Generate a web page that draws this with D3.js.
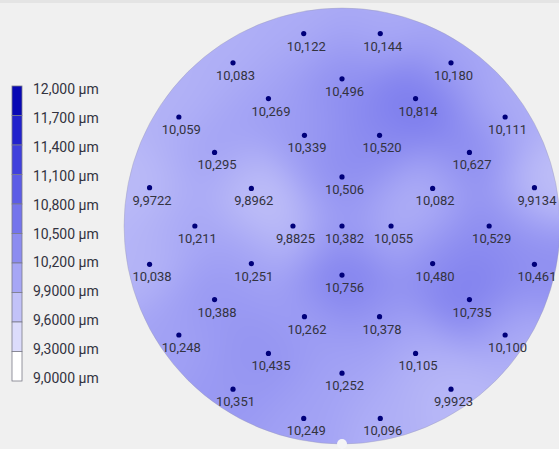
<!DOCTYPE html>
<html>
<head>
<meta charset="utf-8">
<script src="https://cdn.jsdelivr.net/npm/d3@7"></script>
<style>
  html, body { margin: 0; padding: 0; background: #f0f0f0; }
  svg { display: block; font-family: Roboto, "Noto Sans", sans-serif; }
</style>
</head>
<body>
<div id="chart"></div>
<script>
// measurement sites on the wafer (polar, mm / degrees) and thickness in µm
const siteRadius = [
  0,
  33.75, 33.75, 33.75, 33.75,
  67.5, 67.5, 67.5, 67.5, 67.5, 67.5, 67.5, 67.5,
  101.25, 101.25, 101.25, 101.25, 101.25, 101.25, 101.25, 101.25, 101.25, 101.25, 101.25, 101.25,
  135, 135, 135, 135, 135, 135, 135, 135, 135, 135, 135, 135, 135, 135, 135, 135,
];
const siteAngle = [
  0,
  0, 90, 180, 270,
  22.5, 67.5, 112.5, 157.5, 202.5, 247.5, 292.5, 337.5,
  0, 30, 60, 90, 120, 150, 180, 210, 240, 270, 300, 330,
  11.25, 33.75, 56.25, 78.75, 101.25, 123.75, 146.25, 168.75,
  191.25, 213.75, 236.25, 258.75, 281.25, 303.75, 326.25, 348.75,
];
const thickness = [
  10.382,
  10.055, 10.506, 9.8825, 10.756,
  10.082, 10.520, 10.339, 9.8962, 10.251, 10.262, 10.378, 10.480,
  10.529, 10.627, 10.814, 10.496, 10.269, 10.295, 10.211, 10.388, 10.435, 10.252, 10.105, 10.735,
  9.9134, 10.111, 10.180, 10.144, 10.122, 10.083, 10.059, 9.9722,
  10.038, 10.248, 10.351, 10.249, 10.096, 9.9923, 10.100, 10.461,
];
const legendValues = [12.0, 11.7, 11.4, 11.1, 10.8, 10.5, 10.2, 9.9, 9.6, 9.3, 9.0];
const legendColors = [
  "#0808b4", "#2222cc", "#4040dc", "#5c5ce6", "#7474ec", "#8c8cf0",
  "#a6a6f5", "#c2c2f8", "#dcdcfb", "#efeffe", "#ffffff",
];

const width = 559;
const height = 449;
const waferRadius = 150; // mm
const center = { x: 342, y: 226 };
const radiusPx = 218;

const fmt = d3.formatLocale({
  decimal: ",",
  thousands: ".",
  grouping: [3],
  currency: ["", ""],
}).format(".5g");

const x = d3.scaleLinear()
  .domain([-waferRadius, waferRadius])
  .range([center.x - radiusPx, center.x + radiusPx]);
const y = d3.scaleLinear()
  .domain([-waferRadius, waferRadius])
  .range([center.y + radiusPx, center.y - radiusPx]);
const color = d3.scaleLinear()
  .domain(legendValues)
  .range(legendColors)
  .clamp(true);

const sites = thickness.map((v, i) => {
  const a = (siteAngle[i] * Math.PI) / 180;
  return {
    mx: siteRadius[i] * Math.cos(a),
    my: siteRadius[i] * Math.sin(a),
    value: v,
  };
});

const svg = d3.select("#chart")
  .append("svg")
  .attr("width", width)
  .attr("height", height);

svg.append("rect")
  .attr("width", width)
  .attr("height", height)
  .attr("fill", "#f0f0f0");
svg.append("rect")
  .attr("width", width)
  .attr("height", 3)
  .attr("fill", "#e4e4e4");

// interpolated thickness field, gaussian weighted average of the sites
function fieldImage() {
  const size = Math.ceil(radiusPx * 2);
  const canvas = document.createElement("canvas");
  canvas.width = size;
  canvas.height = size;
  const ctx = canvas.getContext("2d");
  const img = ctx.createImageData(size, size);
  const x0 = center.x - radiusPx;
  const y0 = center.y - radiusPx;
  const sigma = 21; // mm
  const s2 = 2 * sigma * sigma;
  for (let j = 0; j < size; j++) {
    for (let i = 0; i < size; i++) {
      const mx = x.invert(x0 + i + 0.5);
      const my = y.invert(y0 + j + 0.5);
      if (mx * mx + my * my > (waferRadius + 2) * (waferRadius + 2)) continue;
      let ws = 0, vs = 0;
      for (const s of sites) {
        const dx = mx - s.mx, dy = my - s.my;
        const w = Math.exp(-(dx * dx + dy * dy) / s2) + 1e-9;
        ws += w;
        vs += w * s.value;
      }
      const c = d3.rgb(color(vs / ws));
      const k = (j * size + i) * 4;
      img.data[k] = c.r;
      img.data[k + 1] = c.g;
      img.data[k + 2] = c.b;
      img.data[k + 3] = 255;
    }
  }
  ctx.putImageData(img, 0, 0);
  return { url: canvas.toDataURL(), x0, y0, size };
}

const defs = svg.append("defs");
defs.append("clipPath")
  .attr("id", "wafer-clip")
  .append("circle")
  .attr("cx", x(0))
  .attr("cy", y(0))
  .attr("r", x(waferRadius) - x(0));

const field = fieldImage();
svg.append("image")
  .attr("x", field.x0)
  .attr("y", field.y0)
  .attr("width", field.size)
  .attr("height", field.size)
  .attr("href", field.url)
  .attr("clip-path", "url(#wafer-clip)");

svg.append("circle")
  .attr("cx", x(0))
  .attr("cy", y(0))
  .attr("r", x(waferRadius) - x(0))
  .attr("fill", "none")
  .attr("stroke", "#9a9aae")
  .attr("stroke-opacity", 0.35)
  .attr("stroke-width", 1);

// notch
svg.append("circle")
  .attr("cx", x(0))
  .attr("cy", y(-waferRadius))
  .attr("r", 5)
  .attr("fill", "#f4f4f6");

const gSites = svg.append("g").attr("class", "sites");
gSites.selectAll(".site-dot")
  .data(sites)
  .join("circle")
  .attr("class", "site-dot")
  .attr("cx", (d) => x(d.mx))
  .attr("cy", (d) => y(d.my))
  .attr("r", 2.6)
  .attr("fill", "#00007a");
gSites.selectAll(".site-label")
  .data(sites)
  .join("text")
  .attr("class", "site-label")
  .attr("x", (d) => x(d.mx) + 2.5)
  .attr("y", (d) => y(d.my) + 17)
  .attr("text-anchor", "middle")
  .attr("font-size", 13)
  .attr("fill", "#33333f")
  .text((d) => fmt(d.value));

// legend
const legendY = d3.scaleLinear()
  .domain([legendValues[0], legendValues[legendValues.length - 1]])
  .range([86, 381]);
const labelY = d3.scaleLinear()
  .domain([legendValues[0], legendValues[legendValues.length - 1]])
  .range([89, 378]);
const gLegend = svg.append("g").attr("class", "legend");
gLegend.selectAll(".legend-swatch")
  .data(legendValues.slice(0, -1))
  .join("rect")
  .attr("class", "legend-swatch")
  .attr("x", 12)
  .attr("y", (d) => legendY(d))
  .attr("width", 10)
  .attr("height", (d, i) => legendY(legendValues[i + 1]) - legendY(d))
  .attr("fill", (d, i) => color(i === legendValues.length - 2 ? legendValues[i + 1] : d))
  .attr("stroke", "#7a7a88")
  .attr("stroke-width", 0.8);
gLegend.selectAll(".legend-label")
  .data(legendValues)
  .join("text")
  .attr("class", "legend-label")
  .attr("x", 33)
  .attr("y", (d) => labelY(d))
  .attr("dy", "0.36em")
  .attr("font-size", 14)
  .attr("fill", "#33333f")
  .text((d) => `${fmt(d)} µm`);
</script>
</body>
</html>
